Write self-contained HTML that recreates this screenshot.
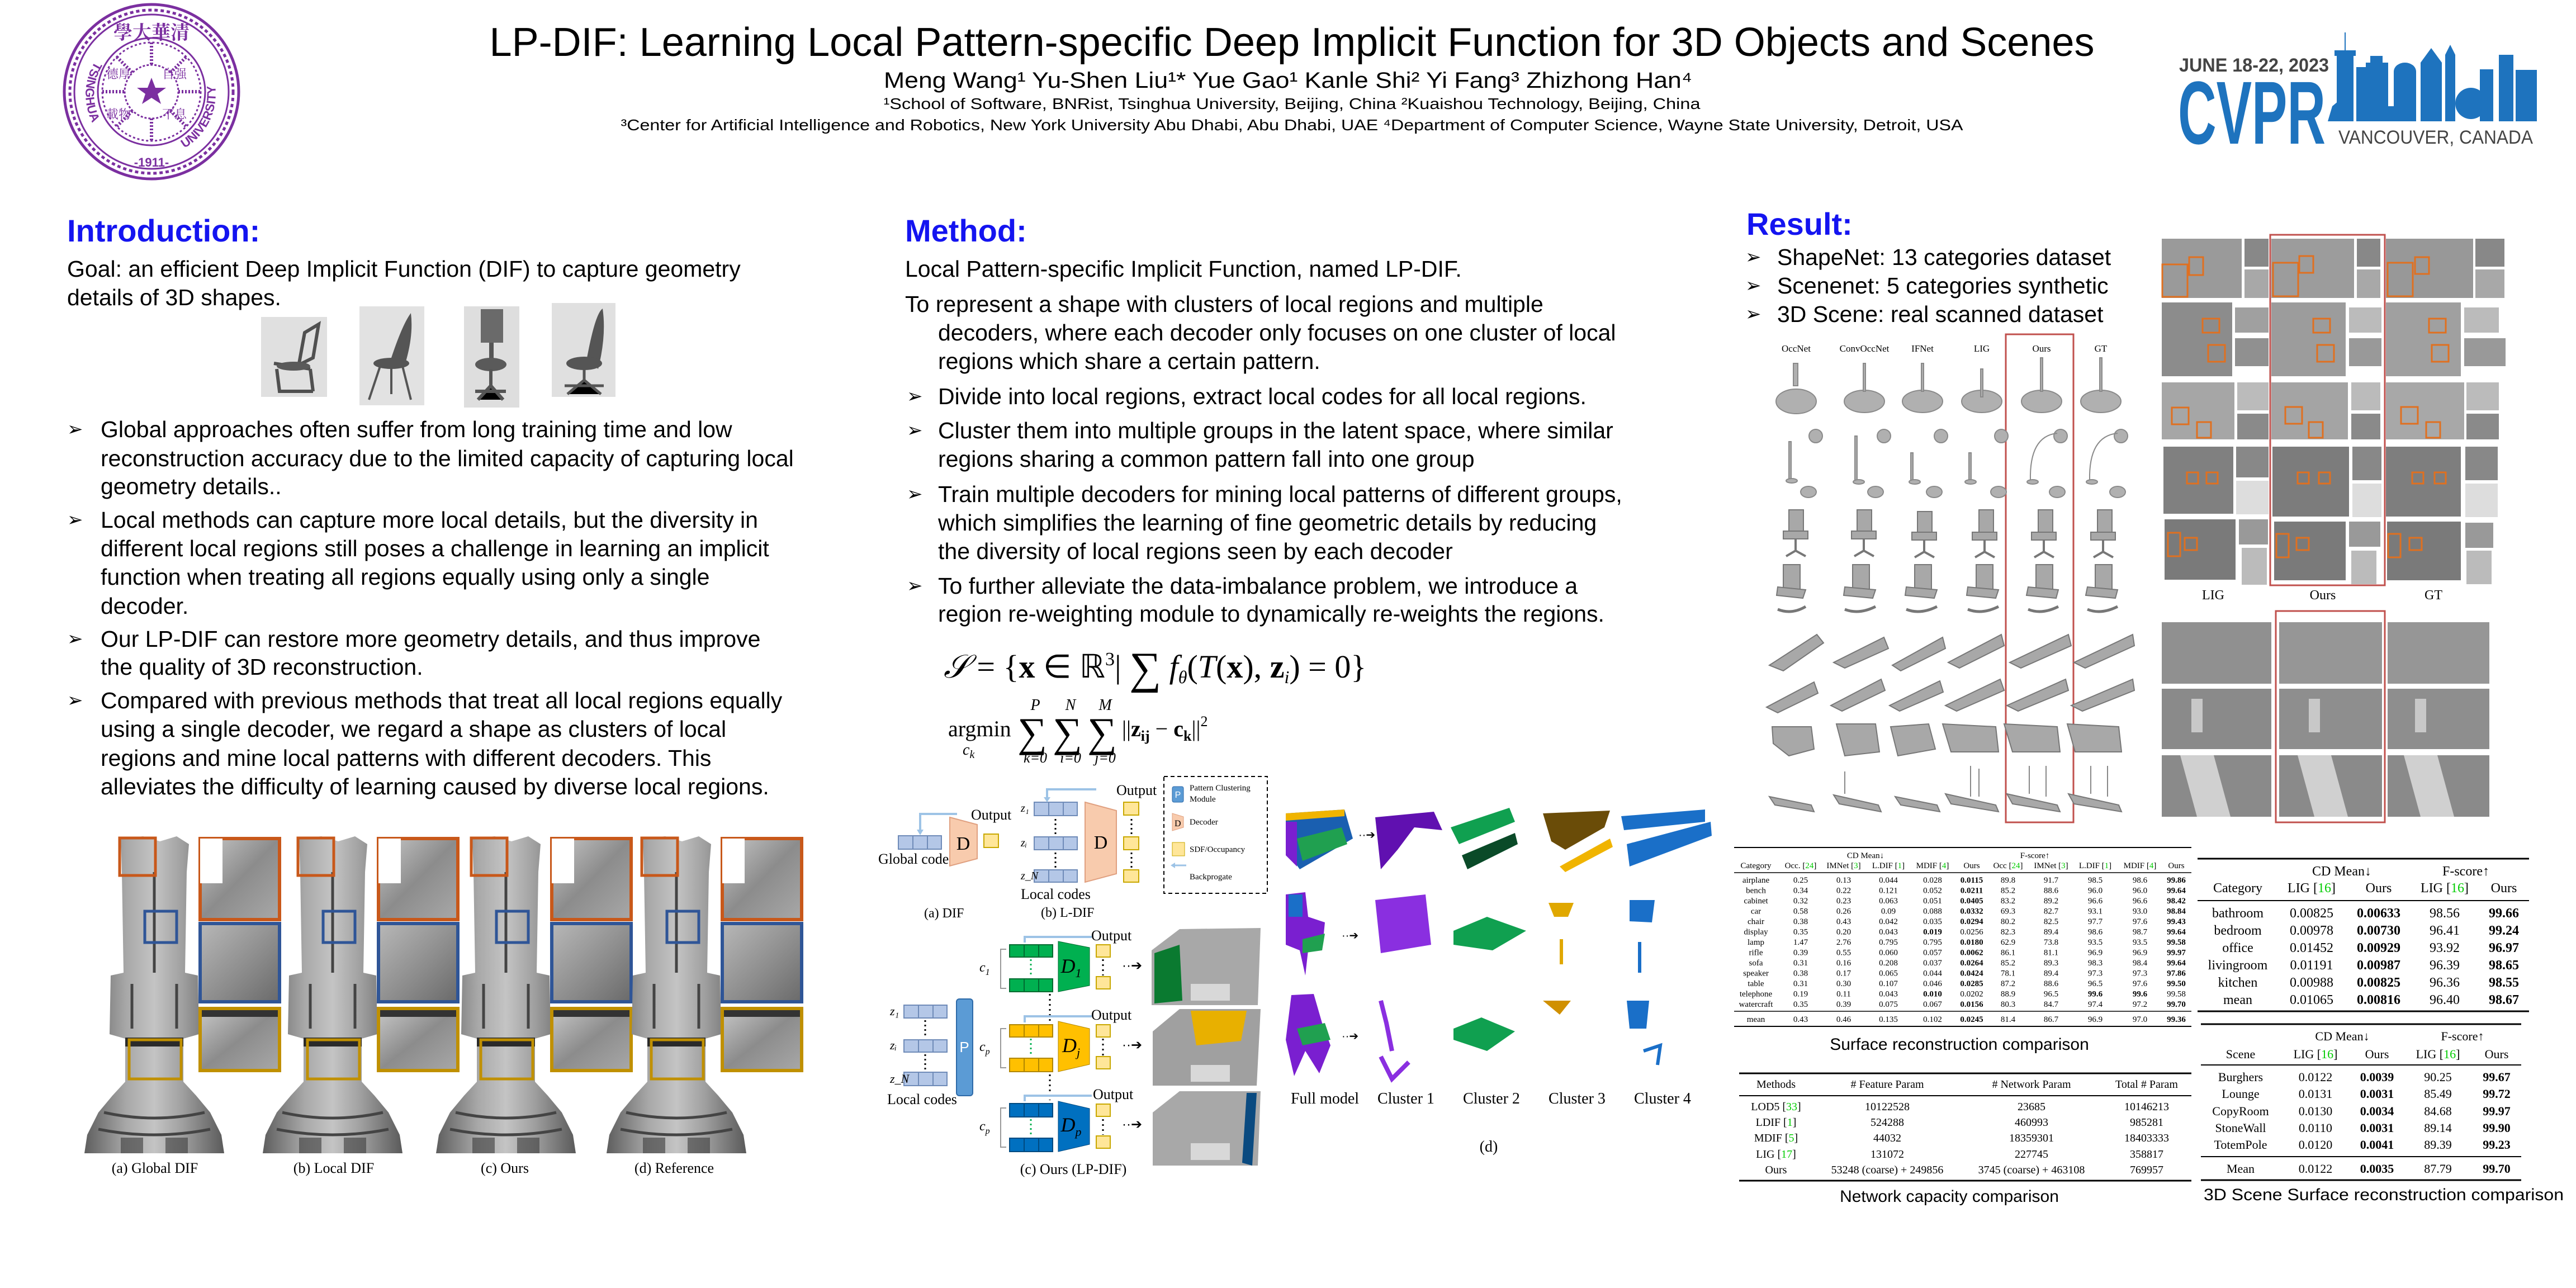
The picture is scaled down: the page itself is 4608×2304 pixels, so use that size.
<!DOCTYPE html>
<html><head><meta charset="utf-8"><style>
html,body{margin:0;padding:0;background:#fff;}
body{width:4608px;height:2304px;overflow:hidden;position:relative;}
svg{position:absolute;left:0;top:0;}
.s{font-family:"Liberation Sans",sans-serif;}
.r{font-family:"Liberation Serif",serif;}
.b{font-size:41px;fill:#000;}
.h{font-size:56px;font-weight:bold;fill:#1414f0;}
.ar{font-family:"DejaVu Sans",sans-serif;font-size:34px;}
</style></head><body>
<svg width="4608" height="2304" viewBox="0 0 4608 2304" xmlns="http://www.w3.org/2000/svg">
<defs>
<linearGradient id="tg" x1="0" x2="1" y1="0" y2="0">
<stop offset="0" stop-color="#5e5e5e"/><stop offset="0.3" stop-color="#a8a8a8"/><stop offset="0.5" stop-color="#c4c4c4"/><stop offset="0.7" stop-color="#a0a0a0"/><stop offset="1" stop-color="#5a5a5a"/></linearGradient>
<linearGradient id="cg" x1="0" x2="1" y1="0" y2="1">
<stop offset="0" stop-color="#c8c8c8"/><stop offset="0.5" stop-color="#8c8c8c"/><stop offset="1" stop-color="#a8a8a8"/></linearGradient>
<linearGradient id="sg" x1="0" x2="1" y1="0" y2="1">
<stop offset="0" stop-color="#b8b8b8"/><stop offset="0.6" stop-color="#8a8a8a"/><stop offset="1" stop-color="#6a6a6a"/></linearGradient>
<g id="totem">
<path d="M-60,1500 L-20,1496 L10,1505 L40,1496 L62,1510 L58,1560 L55,1740 L78,1745 L80,1850 L52,1858 L52,1935 L75,1960 L100,1990 L120,2030 L125,2063 L-125,2063 L-120,2030 L-100,1990 L-75,1960 L-52,1935 L-52,1858 L-80,1850 L-78,1745 L-55,1740 L-58,1560 Z" fill="url(#tg)"/>
<rect x="-52" y="1856" width="104" height="16" fill="#2a2a2a"/>
<path d="M-90,1990 Q0,2010 90,1990 M-100,2020 Q0,2040 100,2020 M-40,1760 L-40,1840 M40,1760 L40,1840 M0,1560 L0,1740" stroke="#444" stroke-width="5" fill="none"/>
<rect x="-60" y="2035" width="40" height="28" fill="#3a3a3a" opacity="0.6"/>
<rect x="20" y="2035" width="40" height="28" fill="#3a3a3a" opacity="0.6"/>
<rect x="-62" y="1499" width="64" height="67" fill="none" stroke="#c8581a" stroke-width="5"/>
<rect x="-17" y="1630" width="57" height="56" fill="none" stroke="#2f5597" stroke-width="5"/>
<rect x="-45" y="1860" width="93" height="70" fill="none" stroke="#c09000" stroke-width="5"/>
<rect x="82" y="1500" width="142" height="145" fill="url(#cg)" stroke="#c8581a" stroke-width="6"/>
<rect x="82" y="1500" width="40" height="80" fill="#fff"/>
<rect x="82" y="1652" width="142" height="140" fill="url(#sg)" stroke="#2f5597" stroke-width="6"/>
<rect x="82" y="1804" width="142" height="111" fill="url(#cg)" stroke="#c09000" stroke-width="6"/>
<rect x="85" y="1807" width="136" height="12" fill="#333"/>
</g>
</defs>

<!-- Tsinghua logo -->
<g stroke="#7b2fa0" fill="none">
<circle cx="271" cy="164" r="156" stroke-width="5"/>
<circle cx="271" cy="164" r="146" stroke-width="5" stroke-dasharray="6 5"/>
<circle cx="271" cy="164" r="138" stroke-width="3"/>
<circle cx="271" cy="164" r="96" stroke-width="3"/>
<circle cx="271" cy="164" r="88" stroke-width="3" stroke-dasharray="4 4"/>
<circle cx="271" cy="164" r="48" stroke-width="3" stroke-dasharray="4 3"/>
<path d="M271,76 L271,116 M271,212 L271,252 M183,164 L223,164 M319,164 L359,164 M209,102 L237,130 M305,198 L333,226 M209,226 L237,198 M305,130 L333,102" stroke-width="6" stroke-dasharray="3 3"/>
</g>
<polygon points="271,139 278,157 297,157 282,168 288,186 271,175 254,186 260,168 245,157 264,157" fill="#7b2fa0"/>
<text x="271" y="70" text-anchor="middle" font-family="Noto Serif CJK SC,serif" font-size="34" font-weight="bold" fill="#7b2fa0">學大華清</text>
<text x="190" y="140" font-family="Noto Serif CJK SC,serif" font-size="22" fill="#7b2fa0">德厚</text>
<text x="290" y="140" font-family="Noto Serif CJK SC,serif" font-size="22" fill="#7b2fa0">自强</text>
<text x="190" y="212" font-family="Noto Serif CJK SC,serif" font-size="22" fill="#7b2fa0">載物</text>
<text x="290" y="212" font-family="Noto Serif CJK SC,serif" font-size="22" fill="#7b2fa0">不息</text>
<path id="ringL" d="M170,110 A112,112 0 0,0 200,260" fill="none"/>
<text font-family="Liberation Sans,sans-serif" font-size="22" font-weight="bold" fill="#7b2fa0"><textPath href="#ringL">TSINGHUA</textPath></text>
<path id="ringR" d="M330,265 A112,112 0 0,0 375,120" fill="none"/>
<text font-family="Liberation Sans,sans-serif" font-size="22" font-weight="bold" fill="#7b2fa0"><textPath href="#ringR">UNIVERSITY</textPath></text>
<text x="271" y="298" text-anchor="middle" font-family="Liberation Sans,sans-serif" font-size="22" font-weight="bold" fill="#7b2fa0">-1911-</text>

<!-- Title -->
<text class="s" x="2311" y="100" text-anchor="middle" font-size="72" textLength="2871" lengthAdjust="spacingAndGlyphs">LP-DIF: Learning Local Pattern-specific Deep Implicit Function for 3D Objects and Scenes</text>
<text class="s" x="2304" y="157" text-anchor="middle" font-size="40" textLength="1446" lengthAdjust="spacingAndGlyphs">Meng Wang¹  Yu-Shen Liu¹* Yue Gao¹  Kanle Shi²  Yi Fang³  Zhizhong Han⁴</text>
<text class="s" x="2311" y="195" text-anchor="middle" font-size="28" textLength="1461" lengthAdjust="spacingAndGlyphs">¹School of Software, BNRist, Tsinghua University, Beijing, China  ²Kuaishou Technology, Beijing, China</text>
<text class="s" x="2311" y="233" text-anchor="middle" font-size="28" textLength="2401" lengthAdjust="spacingAndGlyphs">³Center for Artificial Intelligence and Robotics, New York University Abu Dhabi, Abu Dhabi, UAE ⁴Department of Computer Science, Wayne State University, Detroit, USA</text>

<!-- CVPR logo -->
<text class="s" x="3898" y="128" font-size="34" font-weight="bold" fill="#444" textLength="268" lengthAdjust="spacingAndGlyphs">JUNE 18-22, 2023</text>
<text class="s" x="3896" y="257" font-size="160" font-weight="bold" fill="#1e73be" textLength="264" lengthAdjust="spacingAndGlyphs">CVPR</text>
<g fill="#1e73be">
<path d="M4164,217 L4172,190 L4190,175 L4190,217 Z"/>
<rect x="4180" y="98" width="30" height="119"/><rect x="4176" y="90" width="38" height="10"/><rect x="4194" y="58" width="2" height="32"/>
<rect x="4215" y="120" width="40" height="97"/>
<rect x="4232" y="112" width="40" height="105"/><rect x="4240" y="100" width="22" height="14"/>
<rect x="4282" y="128" width="40" height="89"/><ellipse cx="4302" cy="128" rx="20" ry="16"/>
<rect x="4330" y="112" width="38" height="105"/><polygon points="4330,112 4349,86 4368,112"/>
<rect x="4374" y="98" width="18" height="119"/><polygon points="4374,98 4383,80 4392,98"/>
<circle cx="4420" cy="185" r="28"/>
<rect x="4436" y="124" width="24" height="93"/>
<rect x="4470" y="98" width="26" height="119"/>
<rect x="4500" y="125" width="38" height="92"/>
<rect x="4220" y="190" width="80" height="27"/>
</g>
<text class="s" x="4183" y="257" font-size="34" fill="#444" textLength="348" lengthAdjust="spacingAndGlyphs">VANCOUVER, CANADA</text>

<!-- ================= Introduction ================= -->
<text class="s h" x="120" y="432">Introduction:</text>
<g class="s b">
<text x="120" y="495">Goal: an efficient Deep Implicit Function (DIF) to capture geometry</text>
<text x="120" y="546">details of 3D shapes.</text>
</g>
<!-- chairs -->
<rect x="467" y="567" width="118" height="143" fill="#e0e0e0"/>
<path d="M520,660 L560,640 L570,580 L545,595 L535,650 M490,650 L555,660 M495,660 L500,700 L560,700 M555,660 L560,700" stroke="#505050" stroke-width="6" fill="none"/>
<ellipse cx="525" cy="655" rx="30" ry="8" fill="#5a5a5a"/>
<rect x="643" y="548" width="116" height="177" fill="#e2e2e2"/>
<path d="M700,640 Q720,580 735,560 Q740,600 725,650 Z" fill="#555"/>
<ellipse cx="700" cy="650" rx="32" ry="10" fill="#555"/>
<path d="M680,655 L660,715 M720,655 L735,715 M700,655 L700,705" stroke="#555" stroke-width="4"/>
<rect x="830" y="548" width="99" height="181" fill="#dedede"/>
<rect x="860" y="553" width="40" height="60" fill="#6a6a6a"/>
<rect x="875" y="613" width="8" height="35" fill="#555"/>
<ellipse cx="878" cy="652" rx="28" ry="12" fill="#5a5a5a"/>
<path d="M878,660 L878,690 M850,700 L905,700 M855,715 L878,690 L900,715" stroke="#555" stroke-width="6"/>
<rect x="987" y="542" width="114" height="168" fill="#e0e0e0"/>
<path d="M1050,640 Q1065,560 1078,552 Q1085,600 1070,660 Z" fill="#555"/>
<ellipse cx="1045" cy="650" rx="32" ry="12" fill="#555"/>
<path d="M1045,660 L1045,680 M1010,690 L1080,690 M1015,705 L1045,680 L1075,705" stroke="#555" stroke-width="5"/>

<g class="s b">
<text class="ar" x="120" y="779">➢</text>
<text x="180" y="782">Global approaches often suffer from long training time and low</text>
<text x="180" y="834">reconstruction accuracy due to the limited capacity of capturing local</text>
<text x="180" y="884">geometry details..</text>
<text class="ar" x="120" y="941">➢</text>
<text x="180" y="944">Local methods can capture more local details, but the diversity in</text>
<text x="180" y="995">different local regions still poses a challenge in learning an implicit</text>
<text x="180" y="1046">function when treating all regions equally using only a single</text>
<text x="180" y="1098">decoder.</text>
<text class="ar" x="120" y="1154">➢</text>
<text x="180" y="1157">Our LP-DIF can restore more geometry details, and thus improve</text>
<text x="180" y="1207">the quality of 3D reconstruction.</text>
<text class="ar" x="120" y="1264">➢</text>
<text x="180" y="1267">Compared with previous methods that treat all local regions equally</text>
<text x="180" y="1318">using a single decoder, we regard a shape as clusters of local</text>
<text x="180" y="1370">regions and mine local patterns with different decoders. This</text>
<text x="180" y="1421">alleviates the difficulty of learning caused by diverse local regions.</text>
</g>

<!-- totems -->
<use href="#totem" transform="translate(276,0)"/>
<use href="#totem" transform="translate(595,0)"/>
<use href="#totem" transform="translate(905,0)"/>
<use href="#totem" transform="translate(1210,0)"/>
<g class="r" font-size="26" text-anchor="middle">
<text x="277" y="2098">(a) Global DIF</text>
<text x="597" y="2098">(b) Local DIF</text>
<text x="903" y="2098">(c) Ours</text>
<text x="1206" y="2098">(d) Reference</text>
</g>

<!-- ================= Method ================= -->
<text class="s h" x="1619" y="432">Method:</text>
<g class="s b">
<text x="1619" y="495">Local Pattern-specific Implicit Function, named LP-DIF.</text>
<text x="1619" y="558">To represent a shape with clusters of local regions and multiple</text>
<text x="1678" y="609">decoders, where each decoder only focuses on one cluster of local</text>
<text x="1678" y="660">regions which share a certain pattern.</text>
<text class="ar" x="1622" y="720">➢</text>
<text x="1678" y="723">Divide into local regions, extract local codes for all local regions.</text>
<text class="ar" x="1622" y="781">➢</text>
<text x="1678" y="784">Cluster them into multiple groups in the latent space, where similar</text>
<text x="1678" y="835">regions sharing a common pattern fall into one group</text>
<text class="ar" x="1622" y="895">➢</text>
<text x="1678" y="898">Train multiple decoders for mining local patterns of different groups,</text>
<text x="1678" y="949">which simplifies the learning of fine geometric details by reducing</text>
<text x="1678" y="1000">the diversity of local regions seen by each decoder</text>
<text class="ar" x="1622" y="1059">➢</text>
<text x="1678" y="1062">To further alleviate the data-imbalance problem, we introduce a</text>
<text x="1678" y="1112">region re-weighting module to dynamically re-weights the regions.</text>
</g>
<!-- equations -->
<text class="r" x="1688" y="1212" font-size="58"><tspan font-style="italic">𝒮</tspan> = {<tspan font-weight="bold">x</tspan> ∈ ℝ<tspan font-size="34" dy="-22">3</tspan><tspan dy="22">| </tspan><tspan font-size="80" dy="10">∑</tspan><tspan dy="-10" font-style="italic"> f</tspan><tspan font-size="32" dy="10" font-style="italic">θ</tspan><tspan dy="-10">(</tspan><tspan font-style="italic">T</tspan>(<tspan font-weight="bold">x</tspan>), <tspan font-weight="bold">z</tspan><tspan font-size="32" dy="10" font-style="italic">i</tspan><tspan dy="-10">) = 0}</tspan></text>
<g class="r">
<text x="1696" y="1317" font-size="40">argmin</text>
<text x="1722" y="1350" font-size="28" font-style="italic">c<tspan font-size="20" dy="6">k</tspan></text>
<text x="1820" y="1335" font-size="74">∑</text>
<text x="1883" y="1335" font-size="74">∑</text>
<text x="1945" y="1335" font-size="74">∑</text>
<text x="1852" y="1270" font-size="28" font-style="italic" text-anchor="middle">P</text>
<text x="1915" y="1270" font-size="28" font-style="italic" text-anchor="middle">N</text>
<text x="1977" y="1270" font-size="28" font-style="italic" text-anchor="middle">M</text>
<text x="1852" y="1364" font-size="26" font-style="italic" text-anchor="middle">k=0</text>
<text x="1915" y="1364" font-size="26" font-style="italic" text-anchor="middle">i=0</text>
<text x="1977" y="1364" font-size="26" font-style="italic" text-anchor="middle">j=0</text>
<text x="2007" y="1317" font-size="40">||<tspan font-weight="bold">z</tspan><tspan font-size="26" dy="8" font-weight="bold">ij</tspan><tspan dy="-8"> − </tspan><tspan font-weight="bold">c</tspan><tspan font-size="26" dy="8" font-weight="bold">k</tspan><tspan dy="-8">||</tspan><tspan font-size="26" dy="-18">2</tspan></text>
</g>

<!-- (a) DIF -->
<g stroke="#6f8bb8" stroke-width="2" fill="#b4c7e7">
<rect x="1607" y="1495" width="26" height="24"/><rect x="1633" y="1495" width="26" height="24"/><rect x="1659" y="1495" width="25" height="24"/>
</g>
<polygon points="1699,1462 1748,1475 1748,1536 1699,1549" fill="#f8cbad" stroke="#e0a080" stroke-width="2"/>
<text class="r" x="1723" y="1520" font-size="34" text-anchor="middle">D</text>
<rect x="1760" y="1492" width="26" height="24" fill="#ffe699" stroke="#c9a800" stroke-width="2"/>
<path d="M1712,1456 L1646,1456 L1646,1490" stroke="#9dc3e6" stroke-width="4" fill="none"/>
<polygon points="1640,1484 1652,1484 1646,1494" fill="#9dc3e6"/>
<text class="r" x="1737" y="1466" font-size="26">Output</text>
<text class="r" x="1571" y="1545" font-size="26">Global code</text>
<!-- (b) L-DIF -->
<g stroke="#6f8bb8" stroke-width="2" fill="#b4c7e7">
<rect x="1850" y="1435" width="26" height="24"/><rect x="1876" y="1435" width="26" height="24"/><rect x="1902" y="1435" width="25" height="24"/>
<rect x="1850" y="1497" width="26" height="23"/><rect x="1876" y="1497" width="26" height="23"/><rect x="1902" y="1497" width="25" height="23"/>
<rect x="1850" y="1556" width="26" height="22"/><rect x="1876" y="1556" width="26" height="22"/><rect x="1902" y="1556" width="25" height="22"/>
</g>
<path d="M1888,1465 L1888,1492 M1888,1525 L1888,1552 M2024,1465 L2024,1492 M2024,1525 L2024,1552" stroke="#000" stroke-width="3" stroke-dasharray="3 5"/>
<polygon points="1941,1435 1997,1450 1997,1563 1941,1578" fill="#f8cbad" stroke="#e0a080" stroke-width="2"/>
<text class="r" x="1969" y="1518" font-size="34" text-anchor="middle">D</text>
<g fill="#ffe699" stroke="#c9a800" stroke-width="2"><rect x="2010" y="1435" width="27" height="23"/><rect x="2010" y="1497" width="27" height="23"/><rect x="2010" y="1556" width="27" height="22"/></g>
<path d="M1961,1412 L1873,1412 L1873,1430" stroke="#9dc3e6" stroke-width="4" fill="none"/>
<polygon points="1867,1426 1879,1426 1873,1435" fill="#9dc3e6"/>
<text class="r" x="1997" y="1422" font-size="26">Output</text>
<g class="r" font-size="20" font-style="italic"><text x="1826" y="1452">z₁</text><text x="1826" y="1514">zᵢ</text><text x="1826" y="1573">z_N</text></g>
<text class="r" x="1826" y="1608" font-size="26">Local codes</text>
<text class="r" x="1653" y="1641" font-size="24">(a) DIF</text>
<text class="r" x="1862" y="1640" font-size="24">(b) L-DIF</text>
<!-- legend -->
<rect x="2082" y="1389" width="185" height="209" fill="none" stroke="#000" stroke-width="2" stroke-dasharray="7 5"/>
<rect x="2097" y="1407" width="20" height="28" rx="3" fill="#5b9bd5" stroke="#2e6aa8"/>
<text x="2107" y="1427" font-size="16" fill="#fff" text-anchor="middle" class="s">P</text>
<text class="r" x="2128" y="1414" font-size="15">Pattern Clustering</text>
<text class="r" x="2128" y="1434" font-size="15">Module</text>
<polygon points="2097,1455 2117,1461 2117,1480 2097,1486" fill="#f8cbad" stroke="#e0a080"/>
<text class="r" x="2101" y="1478" font-size="16">D</text>
<text class="r" x="2128" y="1475" font-size="15">Decoder</text>
<rect x="2097" y="1507" width="22" height="24" fill="#ffe699" stroke="#c9a800"/>
<text class="r" x="2128" y="1524" font-size="15">SDF/Occupancy</text>
<path d="M2098,1548 L2122,1548" stroke="#9dc3e6" stroke-width="3"/><polygon points="2094,1548 2102,1543 2102,1553" fill="#9dc3e6"/>
<text class="r" x="2128" y="1573" font-size="15">Backprogate</text>

<!-- (c) LP-DIF -->
<g stroke="#6f8bb8" stroke-width="2" fill="#b4c7e7">
<rect x="1617" y="1798" width="26" height="23"/><rect x="1643" y="1798" width="26" height="23"/><rect x="1669" y="1798" width="25" height="23"/>
<rect x="1617" y="1860" width="26" height="22"/><rect x="1643" y="1860" width="26" height="22"/><rect x="1669" y="1860" width="25" height="22"/>
<rect x="1617" y="1918" width="26" height="24"/><rect x="1643" y="1918" width="26" height="24"/><rect x="1669" y="1918" width="25" height="24"/>
</g>
<path d="M1655,1825 L1655,1856 M1655,1886 L1655,1914" stroke="#000" stroke-width="3" stroke-dasharray="3 5"/>
<g class="r" font-size="22" font-style="italic"><text x="1592" y="1816">z₁</text><text x="1592" y="1877">zᵢ</text><text x="1592" y="1937">z_N</text></g>
<text class="r" x="1587" y="1975" font-size="26">Local codes</text>
<rect x="1711" y="1787" width="29" height="173" rx="5" fill="#5b9bd5" stroke="#2e6aa8" stroke-width="2"/>
<text class="s" x="1725" y="1882" font-size="26" fill="#fff" text-anchor="middle">P</text>
<g stroke="#006b30" stroke-width="2" fill="#00b050">
<rect x="1806" y="1690" width="26" height="22"/><rect x="1832" y="1690" width="26" height="22"/><rect x="1858" y="1690" width="25" height="22"/>
<rect x="1806" y="1751" width="26" height="23"/><rect x="1832" y="1751" width="26" height="23"/><rect x="1858" y="1751" width="25" height="23"/>
</g>
<polygon points="1893,1684 1949,1695 1949,1763 1893,1774" fill="#00b050" stroke="#006b30"/>
<text class="r" x="1916" y="1740" font-size="36" font-style="italic" text-anchor="middle">D<tspan font-size="22" dy="8">1</tspan></text>
<g stroke="#b08600" stroke-width="2" fill="#ffc000">
<rect x="1806" y="1833" width="26" height="22"/><rect x="1832" y="1833" width="26" height="22"/><rect x="1858" y="1833" width="25" height="22"/>
<rect x="1806" y="1893" width="26" height="24"/><rect x="1832" y="1893" width="26" height="24"/><rect x="1858" y="1893" width="25" height="24"/>
</g>
<polygon points="1893,1827 1949,1840 1949,1904 1893,1917" fill="#ffc000" stroke="#b08600"/>
<text class="r" x="1916" y="1882" font-size="36" font-style="italic" text-anchor="middle">D<tspan font-size="22" dy="8">j</tspan></text>
<g stroke="#004a80" stroke-width="2" fill="#0070c0">
<rect x="1806" y="1974" width="26" height="24"/><rect x="1832" y="1974" width="26" height="24"/><rect x="1858" y="1974" width="25" height="24"/>
<rect x="1806" y="2036" width="26" height="24"/><rect x="1832" y="2036" width="26" height="24"/><rect x="1858" y="2036" width="25" height="24"/>
</g>
<polygon points="1893,1970 1949,1983 1949,2047 1893,2060" fill="#0070c0" stroke="#004a80"/>
<text class="r" x="1916" y="2024" font-size="36" font-style="italic" text-anchor="middle">D<tspan font-size="22" dy="8">p</tspan></text>
<g fill="#ffe699" stroke="#c9a800" stroke-width="2">
<rect x="1961" y="1690" width="25" height="22"/><rect x="1961" y="1747" width="25" height="22"/>
<rect x="1961" y="1833" width="25" height="22"/><rect x="1961" y="1890" width="25" height="22"/>
<rect x="1961" y="1975" width="25" height="22"/><rect x="1961" y="2032" width="25" height="22"/>
</g>
<path d="M1844,1716 L1844,1748 M1844,1858 L1844,1890 M1844,2002 L1844,2032" stroke="#00b050" stroke-width="3" stroke-dasharray="3 5"/>
<path d="M1973,1716 L1973,1745 M1973,1858 L1973,1888 M1973,2002 L1973,2030 M1878,1778 L1878,1830 M1878,1922 L1878,1968" stroke="#000" stroke-width="3" stroke-dasharray="3 6"/>
<g stroke="#9dc3e6" stroke-width="4" fill="none">
<path d="M1953,1676 L1833,1676 L1833,1686"/><path d="M1953,1818 L1833,1818 L1833,1829"/><path d="M1953,1960 L1833,1960 L1833,1970"/>
</g>
<g class="r" font-size="26"><text x="1952" y="1682">Output</text><text x="1952" y="1824">Output</text><text x="1955" y="1966">Output</text></g>
<g class="r" font-size="24" font-style="italic"><text x="1752" y="1738">c<tspan font-size="16" dy="6">1</tspan></text><text x="1752" y="1880">c<tspan font-size="16" dy="6">p</tspan></text><text x="1752" y="2022">c<tspan font-size="16" dy="6">p</tspan></text></g>
<g stroke="#999" fill="none" stroke-width="2"><path d="M1800,1698 L1790,1698 L1790,1768 L1800,1768"/><path d="M1800,1840 L1790,1840 L1790,1910 L1800,1910"/><path d="M1800,1982 L1790,1982 L1790,2052 L1800,2052"/></g>
<g font-size="24" class="s"><text x="2007" y="1735">··➔</text><text x="2007" y="1877">··➔</text><text x="2007" y="2019">··➔</text></g>
<g>
<polygon points="2060,1700 2110,1662 2255,1660 2250,1798 2060,1798" fill="#a8a8a8"/>
<polygon points="2065,1705 2110,1690 2115,1790 2065,1795" fill="#0a7a30"/>
<rect x="2130" y="1760" width="70" height="30" fill="#d8d8d8"/>
<polygon points="2062,1845 2110,1805 2255,1805 2248,1942 2062,1942" fill="#a0a0a0"/>
<polygon points="2130,1808 2230,1808 2220,1862 2140,1870" fill="#e8b000"/>
<rect x="2130" y="1905" width="70" height="30" fill="#d8d8d8"/>
<polygon points="2062,1990 2110,1952 2255,1952 2250,2085 2062,2085" fill="#a8a8a8"/>
<polygon points="2230,1955 2248,1955 2240,2085 2222,2080" fill="#0a4a80"/>
<rect x="2130" y="2045" width="70" height="30" fill="#d8d8d8"/>
</g>
<text class="r" x="1920" y="2100" font-size="26" text-anchor="middle">(c) Ours (LP-DIF)</text>

<!-- (d) clusters -->
<g>
<polygon points="2300,1455 2405,1448 2420,1500 2325,1555 2300,1520" fill="#1a5fb0"/>
<polygon points="2300,1455 2405,1448 2405,1460 2300,1468" fill="#f0b400"/>
<polygon points="2300,1470 2320,1470 2320,1550 2300,1530" fill="#7a1fd0"/>
<polygon points="2320,1500 2400,1480 2410,1510 2330,1540" fill="#20a050"/>
<polygon points="2460,1462 2565,1452 2580,1485 2530,1480 2500,1520 2470,1555" fill="#6010b0"/>
<polygon points="2595,1480 2700,1445 2710,1470 2610,1510" fill="#10a050"/>
<polygon points="2615,1530 2710,1490 2715,1510 2625,1555" fill="#0a4a28"/>
<polygon points="2760,1455 2880,1450 2870,1480 2800,1520 2775,1505" fill="#6a4c08"/>
<polygon points="2790,1550 2880,1500 2885,1515 2800,1560" fill="#f0b400"/>
<polygon points="2900,1460 3050,1448 3050,1470 2905,1485" fill="#1a6fc8"/>
<polygon points="2910,1510 3060,1470 3062,1495 2915,1550" fill="#1a6fc8"/>
<polygon points="2300,1600 2335,1596 2340,1640 2370,1650 2365,1700 2340,1700 2335,1745 2325,1700 2300,1690" fill="#7a1fd0"/>
<polygon points="2305,1600 2330,1600 2330,1640 2305,1640" fill="#1a6fc8"/>
<polygon points="2330,1680 2370,1670 2365,1700 2330,1705" fill="#20a050"/>
<polygon points="2460,1610 2550,1600 2560,1690 2470,1705" fill="#8a2fe0"/>
<polygon points="2600,1665 2660,1640 2730,1665 2670,1700 2600,1690" fill="#10a050"/>
<polygon points="2770,1615 2815,1615 2805,1640 2780,1640" fill="#e0a800"/>
<rect x="2790" y="1680" width="6" height="45" fill="#e0a800"/>
<polygon points="2915,1610 2960,1610 2955,1650 2915,1648" fill="#1a6fc8"/>
<rect x="2930" y="1685" width="6" height="55" fill="#1a6fc8"/>
<polygon points="2310,1780 2350,1778 2365,1830 2380,1870 2360,1920 2335,1880 2315,1925 2300,1860" fill="#7a1fd0"/>
<polygon points="2320,1840 2370,1830 2380,1860 2330,1870" fill="#20a050"/>
<path d="M2470,1790 L2480,1830 L2490,1880 M2470,1890 L2490,1930 L2520,1900" stroke="#8a2fe0" stroke-width="8" fill="none"/>
<polygon points="2600,1840 2650,1820 2710,1845 2660,1880 2600,1860" fill="#10a050"/>
<polygon points="2760,1790 2810,1790 2790,1815" fill="#d09000"/>
<polygon points="2910,1790 2950,1790 2945,1840 2915,1840" fill="#1a6fc8"/>
<path d="M2940,1880 L2970,1870 L2965,1905" stroke="#1a6fc8" stroke-width="6" fill="none"/>
<g class="s" font-size="20"><text x="2430" y="1500">··➔</text><text x="2400" y="1680">··➔</text><text x="2400" y="1860">··➔</text></g>
</g>
<g class="r" font-size="28" text-anchor="middle">
<text x="2370" y="1974">Full model</text><text x="2515" y="1974">Cluster 1</text><text x="2668" y="1974">Cluster 2</text><text x="2821" y="1974">Cluster 3</text><text x="2974" y="1974">Cluster 4</text>
<text x="2663" y="2060">(d)</text>
</g>

<!-- ================= Result ================= -->
<text class="s h" x="3124" y="420">Result:</text>
<g class="s b">
<text class="ar" x="3122" y="471">➢</text><text x="3179" y="474">ShapeNet: 13 categories dataset</text>
<text class="ar" x="3122" y="522">➢</text><text x="3179" y="525">Scenenet: 5 categories synthetic</text>
<text class="ar" x="3122" y="573">➢</text><text x="3179" y="576">3D Scene: real scanned dataset</text>
</g>
<g class="r" font-size="17" text-anchor="middle">
<text x="3213" y="629">OccNet</text><text x="3335" y="629">ConvOccNet</text><text x="3439" y="629">IFNet</text><text x="3545" y="629">LIG</text><text x="3652" y="629">Ours</text><text x="3758" y="629">GT</text>
</g>
<rect x="3588" y="598" width="121" height="873" fill="none" stroke="#c0504d" stroke-width="3"/>
<g fill="#b0b0b0" stroke="#8a8a8a" stroke-width="2">
<ellipse cx="3213" cy="718" rx="36" ry="22"/><rect x="3208" y="650" width="8" height="40"/>
<ellipse cx="3335" cy="718" rx="36" ry="20"/><rect x="3333" y="650" width="4" height="50"/>
<ellipse cx="3439" cy="718" rx="36" ry="20"/><rect x="3437" y="650" width="4" height="50"/>
<ellipse cx="3545" cy="718" rx="36" ry="20"/><rect x="3543" y="660" width="4" height="50"/>
<ellipse cx="3652" cy="718" rx="36" ry="20"/><rect x="3650" y="640" width="4" height="60"/>
<ellipse cx="3758" cy="718" rx="36" ry="20"/><rect x="3756" y="640" width="4" height="60"/>
<ellipse cx="3248" cy="780" rx="12" ry="12"/><rect x="3200" y="790" width="4" height="70"/><ellipse cx="3205" cy="860" rx="10" ry="4"/><ellipse cx="3235" cy="880" rx="14" ry="10"/>
<ellipse cx="3370" cy="780" rx="12" ry="12"/><rect x="3318" y="780" width="4" height="80"/><ellipse cx="3325" cy="862" rx="10" ry="4"/><ellipse cx="3355" cy="880" rx="14" ry="10"/>
<ellipse cx="3472" cy="780" rx="12" ry="12"/><rect x="3418" y="810" width="4" height="50"/><ellipse cx="3425" cy="862" rx="10" ry="4"/><ellipse cx="3460" cy="880" rx="14" ry="10"/>
<ellipse cx="3580" cy="780" rx="12" ry="12"/><rect x="3522" y="810" width="4" height="50"/><ellipse cx="3525" cy="862" rx="10" ry="4"/><ellipse cx="3575" cy="880" rx="14" ry="10"/>
<ellipse cx="3686" cy="780" rx="12" ry="12"/><path d="M3632,860 Q3630,780 3680,775" fill="none"/><ellipse cx="3636" cy="862" rx="10" ry="4"/><ellipse cx="3680" cy="880" rx="14" ry="10"/>
<ellipse cx="3794" cy="780" rx="12" ry="12"/><path d="M3738,860 Q3736,780 3788,775" fill="none"/><ellipse cx="3742" cy="862" rx="10" ry="4"/><ellipse cx="3788" cy="880" rx="14" ry="10"/>
</g>
<g fill="#a8a8a8" stroke="#777" stroke-width="2">
<g><rect x="3200" y="912" width="26" height="40"/><rect x="3190" y="950" width="44" height="14"/><path d="M3212,964 L3212,985 M3195,995 L3212,985 L3230,995" fill="none" stroke-width="4"/></g>
<g><rect x="3322" y="912" width="26" height="40"/><rect x="3312" y="950" width="44" height="14"/><path d="M3334,964 L3334,985 M3317,995 L3334,985 L3352,995" fill="none" stroke-width="4"/></g>
<g><rect x="3430" y="915" width="26" height="40"/><rect x="3420" y="952" width="44" height="14"/><path d="M3442,966 L3442,987 M3425,997 L3442,987 L3460,997" fill="none" stroke-width="4"/></g>
<g><rect x="3540" y="912" width="26" height="42"/><rect x="3528" y="952" width="44" height="14"/><path d="M3550,966 L3550,987 M3533,997 L3550,987 L3568,997" fill="none" stroke-width="4"/></g>
<g><rect x="3646" y="912" width="26" height="42"/><rect x="3634" y="952" width="44" height="14"/><path d="M3656,966 L3656,987 M3639,997 L3656,987 L3674,997" fill="none" stroke-width="4"/></g>
<g><rect x="3752" y="912" width="26" height="42"/><rect x="3740" y="952" width="44" height="14"/><path d="M3762,966 L3762,987 M3745,997 L3762,987 L3780,997" fill="none" stroke-width="4"/></g>
<g><rect x="3190" y="1010" width="30" height="45"/><polygon points="3180,1050 3230,1055 3225,1070 3178,1065"/><path d="M3180,1090 Q3205,1100 3230,1085" fill="none" stroke-width="5"/></g>
<g><rect x="3314" y="1010" width="30" height="45"/><polygon points="3300,1050 3355,1055 3350,1070 3298,1065"/><path d="M3300,1090 Q3325,1100 3355,1085" fill="none" stroke-width="5"/></g>
<g><rect x="3425" y="1010" width="30" height="45"/><polygon points="3410,1050 3465,1055 3460,1070 3408,1065"/><path d="M3410,1090 Q3435,1100 3465,1085" fill="none" stroke-width="5"/></g>
<g><rect x="3535" y="1010" width="30" height="45"/><polygon points="3520,1050 3575,1055 3570,1070 3518,1065"/><path d="M3520,1090 Q3545,1100 3575,1085" fill="none" stroke-width="5"/></g>
<g><rect x="3642" y="1010" width="30" height="45"/><polygon points="3628,1050 3682,1055 3678,1070 3625,1065"/><path d="M3628,1090 Q3652,1100 3682,1085" fill="none" stroke-width="5"/></g>
<g><rect x="3748" y="1010" width="30" height="45"/><polygon points="3734,1050 3788,1055 3784,1070 3731,1065"/><path d="M3734,1090 Q3758,1100 3788,1085" fill="none" stroke-width="5"/></g>
<polygon points="3165,1190 3250,1135 3262,1150 3190,1200"/><polygon points="3280,1185 3370,1140 3378,1160 3300,1195"/><polygon points="3385,1190 3475,1140 3480,1160 3400,1200"/><polygon points="3485,1185 3580,1135 3585,1155 3505,1195"/><polygon points="3595,1185 3700,1135 3705,1155 3615,1195"/><polygon points="3710,1185 3815,1135 3818,1155 3730,1195"/>
<polygon points="3160,1265 3245,1220 3252,1240 3180,1275"/><polygon points="3275,1262 3365,1215 3372,1235 3295,1272"/><polygon points="3380,1262 3470,1218 3476,1238 3398,1272"/><polygon points="3480,1262 3578,1215 3585,1235 3500,1272"/><polygon points="3590,1262 3695,1215 3700,1235 3610,1272"/><polygon points="3705,1262 3815,1215 3818,1235 3725,1272"/>
<polygon points="3170,1300 3240,1300 3245,1340 3200,1352 3172,1330"/><polygon points="3285,1295 3355,1295 3362,1345 3300,1352"/><polygon points="3382,1300 3450,1295 3462,1340 3395,1352"/><polygon points="3475,1295 3570,1300 3575,1345 3490,1345"/><polygon points="3585,1295 3680,1300 3685,1345 3600,1345"/><polygon points="3698,1295 3790,1300 3795,1345 3712,1345"/>
<polygon points="3165,1425 3240,1440 3245,1452 3175,1440"/><polygon points="3280,1422 3360,1440 3365,1452 3290,1438"/><polygon points="3390,1425 3465,1440 3470,1452 3400,1440"/><polygon points="3480,1420 3570,1440 3575,1452 3490,1438"/><polygon points="3590,1420 3680,1440 3685,1452 3600,1438"/><polygon points="3700,1420 3790,1440 3795,1452 3710,1438"/>
</g>
<g stroke="#888" stroke-width="2"><path d="M3300,1420 L3300,1380 M3525,1425 L3525,1370 M3540,1425 L3540,1375 M3630,1420 L3630,1370 M3660,1425 L3660,1370 M3740,1420 L3740,1370 M3770,1425 L3770,1370"/></g>

<!-- scene grid top -->
<g>
<rect x="3867" y="427" width="143" height="106" fill="#9a9a9a"/><rect x="4015" y="427" width="43" height="50" fill="#888"/><rect x="4015" y="482" width="43" height="51" fill="#a8a8a8"/>
<rect x="4063" y="427" width="148" height="106" fill="#9c9c9c"/><rect x="4216" y="427" width="42" height="50" fill="#888"/><rect x="4216" y="482" width="42" height="51" fill="#a8a8a8"/>
<rect x="4268" y="427" width="156" height="106" fill="#989898"/><rect x="4428" y="427" width="52" height="50" fill="#888"/><rect x="4428" y="482" width="52" height="51" fill="#a8a8a8"/>
<rect x="3867" y="541" width="126" height="132" fill="#8c8c8c"/><rect x="3998" y="550" width="60" height="45" fill="#a0a0a0"/><rect x="3998" y="605" width="60" height="50" fill="#909090"/>
<rect x="4063" y="541" width="133" height="132" fill="#9c9c9c"/><rect x="4202" y="550" width="58" height="45" fill="#bbb"/><rect x="4202" y="605" width="58" height="50" fill="#999"/>
<rect x="4268" y="541" width="134" height="132" fill="#a0a0a0"/><rect x="4408" y="550" width="62" height="45" fill="#bbb"/><rect x="4408" y="605" width="74" height="50" fill="#999"/>
<rect x="3867" y="684" width="130" height="102" fill="#a6a6a6"/><rect x="4002" y="684" width="56" height="50" fill="#bbb"/><rect x="4002" y="740" width="56" height="46" fill="#8a8a8a"/>
<rect x="4063" y="684" width="137" height="102" fill="#a4a4a4"/><rect x="4206" y="684" width="52" height="50" fill="#bbb"/><rect x="4206" y="740" width="52" height="46" fill="#8a8a8a"/>
<rect x="4268" y="684" width="140" height="102" fill="#a8a8a8"/><rect x="4412" y="684" width="58" height="50" fill="#bbb"/><rect x="4412" y="740" width="58" height="46" fill="#8a8a8a"/>
<rect x="3870" y="799" width="125" height="120" fill="#808080"/><rect x="4000" y="799" width="58" height="55" fill="#888"/><rect x="4000" y="860" width="58" height="60" fill="#ddd"/>
<rect x="4065" y="799" width="137" height="125" fill="#7c7c7c"/><rect x="4208" y="799" width="52" height="60" fill="#888"/><rect x="4208" y="865" width="52" height="60" fill="#ddd"/>
<rect x="4268" y="799" width="134" height="125" fill="#7e7e7e"/><rect x="4410" y="799" width="58" height="60" fill="#888"/><rect x="4410" y="865" width="58" height="60" fill="#ddd"/>
<rect x="3872" y="929" width="127" height="108" fill="#7a7a7a"/><rect x="4005" y="929" width="52" height="45" fill="#999"/><rect x="4010" y="980" width="45" height="66" fill="#bbb"/>
<rect x="4068" y="933" width="128" height="105" fill="#7a7a7a"/><rect x="4202" y="933" width="56" height="45" fill="#999"/><rect x="4206" y="985" width="45" height="60" fill="#bbb"/>
<rect x="4270" y="933" width="132" height="105" fill="#7a7a7a"/><rect x="4410" y="935" width="50" height="45" fill="#999"/><rect x="4412" y="985" width="45" height="60" fill="#bbb"/>
</g>
<g fill="none" stroke="#e07020" stroke-width="3">
<rect x="3868" y="473" width="45" height="58"/><rect x="3916" y="460" width="25" height="32"/>
<rect x="4066" y="470" width="45" height="60"/><rect x="4113" y="458" width="25" height="30"/>
<rect x="4271" y="470" width="45" height="60"/><rect x="4320" y="460" width="25" height="30"/>
<rect x="3940" y="570" width="30" height="25"/><rect x="3950" y="617" width="30" height="30"/>
<rect x="4138" y="570" width="30" height="25"/><rect x="4145" y="617" width="30" height="30"/>
<rect x="4345" y="570" width="30" height="25"/><rect x="4350" y="617" width="30" height="30"/>
<rect x="3885" y="729" width="30" height="30"/><rect x="3930" y="755" width="25" height="28"/>
<rect x="4088" y="728" width="30" height="30"/><rect x="4130" y="755" width="25" height="28"/>
<rect x="4295" y="728" width="30" height="30"/><rect x="4340" y="755" width="25" height="28"/>
<rect x="3912" y="845" width="20" height="20"/><rect x="3947" y="845" width="20" height="20"/>
<rect x="4110" y="845" width="20" height="20"/><rect x="4148" y="845" width="20" height="20"/>
<rect x="4315" y="845" width="20" height="20"/><rect x="4355" y="845" width="20" height="20"/>
<rect x="3878" y="953" width="22" height="42"/><rect x="3908" y="962" width="22" height="22"/>
<rect x="4072" y="955" width="22" height="42"/><rect x="4108" y="962" width="22" height="22"/>
<rect x="4272" y="955" width="22" height="42"/><rect x="4310" y="962" width="22" height="22"/>
</g>
<rect x="4061" y="420" width="205" height="627" fill="none" stroke="#c0504d" stroke-width="3"/>
<g class="r" font-size="24" text-anchor="middle"><text x="3959" y="1072">LIG</text><text x="4155" y="1072">Ours</text><text x="4353" y="1072">GT</text></g>
<g>
<rect x="3867" y="1113" width="196" height="110" fill="#909090"/><rect x="4077" y="1113" width="184" height="110" fill="#969696"/><rect x="4271" y="1113" width="182" height="110" fill="#969696"/>
<rect x="3867" y="1232" width="196" height="108" fill="#8a8a8a"/><rect x="4077" y="1232" width="184" height="108" fill="#8e8e8e"/><rect x="4271" y="1232" width="182" height="108" fill="#8e8e8e"/>
<rect x="3867" y="1351" width="196" height="110" fill="#8a8a8a"/><rect x="4077" y="1351" width="184" height="110" fill="#8a8a8a"/><rect x="4271" y="1351" width="182" height="110" fill="#8a8a8a"/>
<polygon points="3900,1351 3960,1351 3990,1461 3930,1461" fill="#d0d0d0"/><polygon points="4110,1351 4170,1351 4200,1461 4140,1461" fill="#d0d0d0"/><polygon points="4300,1351 4360,1351 4390,1461 4330,1461" fill="#d0d0d0"/>
<rect x="3920" y="1250" width="20" height="60" fill="#c8c8c8"/><rect x="4130" y="1250" width="20" height="60" fill="#c8c8c8"/><rect x="4320" y="1250" width="20" height="60" fill="#c8c8c8"/>
</g>
<rect x="4071" y="1093" width="195" height="378" fill="none" stroke="#c0504d" stroke-width="3"/>

<!-- Table 1 -->
<g stroke="#000"><line x1="3102" y1="1516" x2="3920" y2="1516" stroke-width="2"/><line x1="3102" y1="1561" x2="3920" y2="1561" stroke-width="1.5"/><line x1="3102" y1="1809" x2="3920" y2="1809" stroke-width="1.5"/><line x1="3102" y1="1836" x2="3920" y2="1836" stroke-width="2"/></g>
<g class="r" font-size="15" text-anchor="middle">
<text x="3337" y="1535">CD Mean↓</text><text x="3640" y="1535">F-score↑</text>
<text x="3141" y="1553">Category</text><text x="3221" y="1553">Occ. [<tspan fill="#0c0">24</tspan>]</text><text x="3298" y="1553">IMNet [<tspan fill="#0c0">3</tspan>]</text><text x="3378" y="1553">L.DIF [<tspan fill="#0c0">1</tspan>]</text><text x="3457" y="1553">MDIF [<tspan fill="#0c0">4</tspan>]</text><text x="3527" y="1553">Ours</text><text x="3592" y="1553">Occ [<tspan fill="#0c0">24</tspan>]</text><text x="3669" y="1553">IMNet [<tspan fill="#0c0">3</tspan>]</text><text x="3748" y="1553">L.DIF [<tspan fill="#0c0">1</tspan>]</text><text x="3828" y="1553">MDIF [<tspan fill="#0c0">4</tspan>]</text><text x="3893" y="1553">Ours</text>
</g>
<g class="r" font-size="15" text-anchor="middle">
<g transform="translate(0,1579)"><text x="3141">airplane</text><text x="3221">0.25</text><text x="3298">0.13</text><text x="3378">0.044</text><text x="3457">0.028</text><text x="3527" font-weight="bold">0.0115</text><text x="3592">89.8</text><text x="3669">91.7</text><text x="3748">98.5</text><text x="3828">98.6</text><text x="3893" font-weight="bold">99.86</text></g>
<g transform="translate(0,1597.5)"><text x="3141">bench</text><text x="3221">0.34</text><text x="3298">0.22</text><text x="3378">0.121</text><text x="3457">0.052</text><text x="3527" font-weight="bold">0.0211</text><text x="3592">85.2</text><text x="3669">88.6</text><text x="3748">96.0</text><text x="3828">96.0</text><text x="3893" font-weight="bold">99.64</text></g>
<g transform="translate(0,1616)"><text x="3141">cabinet</text><text x="3221">0.32</text><text x="3298">0.23</text><text x="3378">0.063</text><text x="3457">0.051</text><text x="3527" font-weight="bold">0.0405</text><text x="3592">83.2</text><text x="3669">89.2</text><text x="3748">96.6</text><text x="3828">96.6</text><text x="3893" font-weight="bold">98.42</text></g>
<g transform="translate(0,1634.5)"><text x="3141">car</text><text x="3221">0.58</text><text x="3298">0.26</text><text x="3378">0.09</text><text x="3457">0.088</text><text x="3527" font-weight="bold">0.0332</text><text x="3592">69.3</text><text x="3669">82.7</text><text x="3748">93.1</text><text x="3828">93.0</text><text x="3893" font-weight="bold">98.84</text></g>
<g transform="translate(0,1653)"><text x="3141">chair</text><text x="3221">0.38</text><text x="3298">0.43</text><text x="3378">0.042</text><text x="3457">0.035</text><text x="3527" font-weight="bold">0.0294</text><text x="3592">80.2</text><text x="3669">82.5</text><text x="3748">97.7</text><text x="3828">97.6</text><text x="3893" font-weight="bold">99.43</text></g>
<g transform="translate(0,1671.5)"><text x="3141">display</text><text x="3221">0.35</text><text x="3298">0.20</text><text x="3378">0.043</text><text x="3457" font-weight="bold">0.019</text><text x="3527">0.0256</text><text x="3592">82.3</text><text x="3669">89.4</text><text x="3748">98.6</text><text x="3828">98.7</text><text x="3893" font-weight="bold">99.64</text></g>
<g transform="translate(0,1690)"><text x="3141">lamp</text><text x="3221">1.47</text><text x="3298">2.76</text><text x="3378">0.795</text><text x="3457">0.795</text><text x="3527" font-weight="bold">0.0180</text><text x="3592">62.9</text><text x="3669">73.8</text><text x="3748">93.5</text><text x="3828">93.5</text><text x="3893" font-weight="bold">99.58</text></g>
<g transform="translate(0,1708.5)"><text x="3141">rifle</text><text x="3221">0.39</text><text x="3298">0.55</text><text x="3378">0.060</text><text x="3457">0.057</text><text x="3527" font-weight="bold">0.0062</text><text x="3592">86.1</text><text x="3669">81.1</text><text x="3748">96.9</text><text x="3828">96.9</text><text x="3893" font-weight="bold">99.97</text></g>
<g transform="translate(0,1727)"><text x="3141">sofa</text><text x="3221">0.31</text><text x="3298">0.16</text><text x="3378">0.208</text><text x="3457">0.037</text><text x="3527" font-weight="bold">0.0264</text><text x="3592">85.2</text><text x="3669">89.3</text><text x="3748">98.3</text><text x="3828">98.4</text><text x="3893" font-weight="bold">99.64</text></g>
<g transform="translate(0,1745.5)"><text x="3141">speaker</text><text x="3221">0.38</text><text x="3298">0.17</text><text x="3378">0.065</text><text x="3457">0.044</text><text x="3527" font-weight="bold">0.0424</text><text x="3592">78.1</text><text x="3669">89.4</text><text x="3748">97.3</text><text x="3828">97.3</text><text x="3893" font-weight="bold">97.86</text></g>
<g transform="translate(0,1764)"><text x="3141">table</text><text x="3221">0.31</text><text x="3298">0.30</text><text x="3378">0.107</text><text x="3457">0.046</text><text x="3527" font-weight="bold">0.0285</text><text x="3592">87.2</text><text x="3669">88.6</text><text x="3748">96.5</text><text x="3828">97.6</text><text x="3893" font-weight="bold">99.50</text></g>
<g transform="translate(0,1782.5)"><text x="3141">telephone</text><text x="3221">0.19</text><text x="3298">0.11</text><text x="3378">0.043</text><text x="3457" font-weight="bold">0.010</text><text x="3527">0.0202</text><text x="3592">88.9</text><text x="3669">96.5</text><text x="3748" font-weight="bold">99.6</text><text x="3828" font-weight="bold">99.6</text><text x="3893">99.58</text></g>
<g transform="translate(0,1801)"><text x="3141">watercraft</text><text x="3221">0.35</text><text x="3298">0.39</text><text x="3378">0.075</text><text x="3457">0.067</text><text x="3527" font-weight="bold">0.0156</text><text x="3592">80.3</text><text x="3669">84.7</text><text x="3748">97.4</text><text x="3828">97.2</text><text x="3893" font-weight="bold">99.70</text></g>
<g transform="translate(0,1828)"><text x="3141">mean</text><text x="3221">0.43</text><text x="3298">0.46</text><text x="3378">0.135</text><text x="3457">0.102</text><text x="3527" font-weight="bold">0.0245</text><text x="3592">81.4</text><text x="3669">86.7</text><text x="3748">96.9</text><text x="3828">97.0</text><text x="3893" font-weight="bold">99.36</text></g>
</g>
<text class="s" x="3505" y="1878" font-size="30" text-anchor="middle">Surface reconstruction comparison</text>

<!-- Table 2 -->
<g stroke="#000"><line x1="3931" y1="1536" x2="4524" y2="1536" stroke-width="3"/><line x1="3931" y1="1611" x2="4524" y2="1611" stroke-width="2"/><line x1="3931" y1="1809" x2="4524" y2="1809" stroke-width="3"/></g>
<g class="r" font-size="24" text-anchor="middle">
<text x="4189" y="1566">CD Mean↓</text><text x="4411" y="1566">F-score↑</text>
<text x="4003" y="1596">Category</text><text x="4135" y="1596">LIG [<tspan fill="#0c0">16</tspan>]</text><text x="4255" y="1596">Ours</text><text x="4373" y="1596">LIG [<tspan fill="#0c0">16</tspan>]</text><text x="4479" y="1596">Ours</text>
<g transform="translate(0,1641)"><text x="4003">bathroom</text><text x="4135">0.00825</text><text x="4255" font-weight="bold">0.00633</text><text x="4373">98.56</text><text x="4479" font-weight="bold">99.66</text></g>
<g transform="translate(0,1672)"><text x="4003">bedroom</text><text x="4135">0.00978</text><text x="4255" font-weight="bold">0.00730</text><text x="4373">96.41</text><text x="4479" font-weight="bold">99.24</text></g>
<g transform="translate(0,1703)"><text x="4003">office</text><text x="4135">0.01452</text><text x="4255" font-weight="bold">0.00929</text><text x="4373">93.92</text><text x="4479" font-weight="bold">96.97</text></g>
<g transform="translate(0,1734)"><text x="4003">livingroom</text><text x="4135">0.01191</text><text x="4255" font-weight="bold">0.00987</text><text x="4373">96.39</text><text x="4479" font-weight="bold">98.65</text></g>
<g transform="translate(0,1765)"><text x="4003">kitchen</text><text x="4135">0.00988</text><text x="4255" font-weight="bold">0.00825</text><text x="4373">96.36</text><text x="4479" font-weight="bold">98.55</text></g>
<g transform="translate(0,1796)"><text x="4003">mean</text><text x="4135">0.01065</text><text x="4255" font-weight="bold">0.00816</text><text x="4373">96.40</text><text x="4479" font-weight="bold">98.67</text></g>
</g>

<!-- Table 3 -->
<g stroke="#000"><line x1="3937" y1="1832" x2="4510" y2="1832" stroke-width="3"/><line x1="3937" y1="1905" x2="4510" y2="1905" stroke-width="2"/><line x1="3937" y1="2069" x2="4510" y2="2069" stroke-width="2"/><line x1="3937" y1="2111" x2="4510" y2="2111" stroke-width="3"/></g>
<g class="r" font-size="22" text-anchor="middle">
<text x="4190" y="1861">CD Mean↓</text><text x="4405" y="1861">F-score↑</text>
<text x="4008" y="1893">Scene</text><text x="4142" y="1893">LIG [<tspan fill="#0c0">16</tspan>]</text><text x="4252" y="1893">Ours</text><text x="4361" y="1893">LIG [<tspan fill="#0c0">16</tspan>]</text><text x="4466" y="1893">Ours</text>
<g transform="translate(0,1934)"><text x="4008">Burghers</text><text x="4142">0.0122</text><text x="4252" font-weight="bold">0.0039</text><text x="4361">90.25</text><text x="4466" font-weight="bold">99.67</text></g>
<g transform="translate(0,1964)"><text x="4008">Lounge</text><text x="4142">0.0131</text><text x="4252" font-weight="bold">0.0031</text><text x="4361">85.49</text><text x="4466" font-weight="bold">99.72</text></g>
<g transform="translate(0,1995)"><text x="4008">CopyRoom</text><text x="4142">0.0130</text><text x="4252" font-weight="bold">0.0034</text><text x="4361">84.68</text><text x="4466" font-weight="bold">99.97</text></g>
<g transform="translate(0,2025)"><text x="4008">StoneWall</text><text x="4142">0.0110</text><text x="4252" font-weight="bold">0.0031</text><text x="4361">89.14</text><text x="4466" font-weight="bold">99.90</text></g>
<g transform="translate(0,2055)"><text x="4008">TotemPole</text><text x="4142">0.0120</text><text x="4252" font-weight="bold">0.0041</text><text x="4361">89.39</text><text x="4466" font-weight="bold">99.23</text></g>
<g transform="translate(0,2098)"><text x="4008">Mean</text><text x="4142">0.0122</text><text x="4252" font-weight="bold">0.0035</text><text x="4361">87.79</text><text x="4466" font-weight="bold">99.70</text></g>
</g>
<text class="s" x="3942" y="2147" font-size="30" textLength="644" lengthAdjust="spacingAndGlyphs">3D Scene Surface reconstruction comparison</text>

<!-- Table 4 -->
<g stroke="#000"><line x1="3111" y1="1920" x2="3920" y2="1920" stroke-width="3"/><line x1="3111" y1="1960" x2="3920" y2="1960" stroke-width="2"/><line x1="3111" y1="2112" x2="3920" y2="2112" stroke-width="3"/></g>
<g class="r" font-size="20" text-anchor="middle">
<g transform="translate(0,1946)"><text x="3177">Methods</text><text x="3376"># Feature Param</text><text x="3634"># Network Param</text><text x="3840">Total # Param</text></g>
<g transform="translate(0,1986)"><text x="3177">LOD5 [<tspan fill="#0c0">33</tspan>]</text><text x="3376">10122528</text><text x="3634">23685</text><text x="3840">10146213</text></g>
<g transform="translate(0,2014)"><text x="3177">LDIF [<tspan fill="#0c0">1</tspan>]</text><text x="3376">524288</text><text x="3634">460993</text><text x="3840">985281</text></g>
<g transform="translate(0,2042)"><text x="3177">MDIF [<tspan fill="#0c0">5</tspan>]</text><text x="3376">44032</text><text x="3634">18359301</text><text x="3840">18403333</text></g>
<g transform="translate(0,2071)"><text x="3177">LIG [<tspan fill="#0c0">17</tspan>]</text><text x="3376">131072</text><text x="3634">227745</text><text x="3840">358817</text></g>
<g transform="translate(0,2099)"><text x="3177">Ours</text><text x="3376">53248 (coarse) + 249856</text><text x="3634">3745 (coarse) + 463108</text><text x="3840">769957</text></g>
</g>
<text class="s" x="3487" y="2150" font-size="30" text-anchor="middle">Network capacity comparison</text>
</svg>
</body></html>
